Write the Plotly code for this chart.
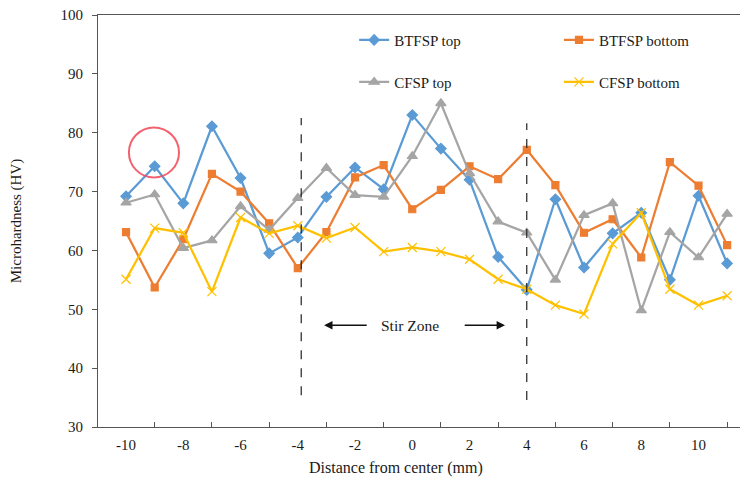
import plotly.graph_objects as go

distance = list(range(-10, 12))
btfsp_top = [69.2, 74.3, 68.0, 81.1, 72.3, 59.5, 62.2, 69.1, 74.1, 70.4, 83.0, 77.3,
             72.0, 58.9, 53.3, 68.7, 57.1, 62.9, 66.4, 55.0, 69.3, 57.8]
btfsp_bottom = [63.1, 53.7, 61.9, 73.0, 70.0, 64.6, 57.0, 63.1, 72.4, 74.5, 67.0, 70.3,
                74.3, 72.1, 77.1, 71.1, 63.0, 65.3, 58.8, 75.0, 71.0, 60.9]
cfsp_top = [68.1, 69.5, 60.4, 61.7, 67.5, 63.5, 68.9, 74.0, 69.4, 69.1, 76.0, 85.0,
            73.1, 64.9, 63.0, 55.0, 66.0, 68.0, 49.8, 63.1, 58.8, 66.2]
cfsp_bottom = [55.1, 63.8, 63.0, 53.0, 65.6, 62.9, 64.2, 62.1, 63.9, 59.8, 60.5, 59.8,
               58.5, 55.1, 53.4, 50.7, 49.2, 61.1, 66.4, 53.4, 50.7, 52.3]

x_tick_vals = list(range(-10, 11, 2))
x_tick_text = [str(v) for v in x_tick_vals]
x_minor_ticks = list(range(-9, 12, 2))
y_tick_vals = list(range(30, 101, 10))

series = [
    ("BTFSP top", btfsp_top, "#5B9BD5", "diamond", 8, "legend"),
    ("BTFSP bottom", btfsp_bottom, "#ED7D31", "square", 7, "legend2"),
    ("CFSP top", cfsp_top, "#A5A5A5", "triangle-up", 9, "legend3"),
    ("CFSP bottom", cfsp_bottom, "#FFC000", "x-thin", 9, "legend4"),
]

FONT = "Liberation Serif"
TXT = "#1a1a1a"
fig = go.Figure()
for name, ys, color, sym, size, leg in series:
    fig.add_trace(go.Scatter(
        x=distance, y=ys, name=name, mode="lines+markers",
        line=dict(color=color, width=2.25),
        marker=dict(symbol=sym, size=size, color=color,
                    line=dict(color=color, width=1.2)),
        legend=leg, showlegend=True,
    ))

# dashed boundaries of stir zone
zone_left, zone_right = -3.88, 4.0
fig.add_shape(type="line", xref="x", yref="y", x0=zone_left, x1=zone_left, y0=35.4, y1=82.5,
              line=dict(color="#222", width=1.2, dash="dash"))
fig.add_shape(type="line", xref="x", yref="y", x0=zone_right, x1=zone_right, y0=34.6, y1=81.6,
              line=dict(color="#222", width=1.2, dash="dash"))
# red circle highlight
fig.add_shape(type="circle", xref="x", yref="y", x0=-9.9, x1=-8.15, y0=72.4, y1=80.9,
              line=dict(color="rgba(240,70,85,0.85)", width=2))

# Stir zone label and arrows
fig.add_annotation(x=-0.08, y=47.3, xref="x", yref="y", text="Stir Zone", showarrow=False,
                   font=dict(family=FONT, size=15.5, color=TXT))
fig.add_annotation(x=-3.08, y=47.3, ax=-1.54, ay=47.3, xref="x", yref="y", axref="x", ayref="y",
                   text="", showarrow=True, arrowhead=2, arrowsize=1.2, arrowwidth=1.4, arrowcolor="#111")
fig.add_annotation(x=3.24, y=47.3, ax=1.78, ay=47.3, xref="x", yref="y", axref="x", ayref="y",
                   text="", showarrow=True, arrowhead=2, arrowsize=1.2, arrowwidth=1.4, arrowcolor="#111")

# x-axis title (offset left of the plot centre, as in the reference)
fig.add_annotation(x=0.464, y=-0.1, xref="paper", yref="paper", text="Distance from center (mm)",
                   showarrow=False, yanchor="middle", font=dict(family=FONT, size=16, color=TXT))

leg_common = dict(font=dict(family=FONT, size=15, color=TXT), bgcolor="rgba(0,0,0,0)",
                  xanchor="left", yanchor="middle", itemwidth=30)
fig.update_layout(
    width=748, height=486,
    margin=dict(l=90, r=16, t=7, b=67),
    paper_bgcolor="white", plot_bgcolor="white",
    showlegend=True,
    font=dict(family=FONT, size=15, color=TXT),
    legend=dict(x=0.399, y=0.939, **leg_common),
    legend2=dict(x=0.718, y=0.939, **leg_common),
    legend3=dict(x=0.399, y=0.837, **leg_common),
    legend4=dict(x=0.718, y=0.837, **leg_common),
    xaxis=dict(
        range=[-10.98, 11.45], tickmode="array", tickvals=x_tick_vals, ticktext=x_tick_text,
        ticks="", showline=True, linecolor="#555", linewidth=1.2, mirror=True,
        showgrid=False, zeroline=False, automargin=False, ticklabelstandoff=4,
        ticklabeloverflow="allow",
        minor=dict(tickmode="array", tickvals=x_minor_ticks, ticks="inside", ticklen=5,
                   tickcolor="#555", showgrid=False),
        tickfont=dict(family=FONT, size=15, color=TXT),
    ),
    yaxis=dict(
        range=[30, 100], tickmode="array", tickvals=y_tick_vals,
        ticks="outside", ticklen=5, tickcolor="#555",
        showline=True, linecolor="#555", linewidth=1.2,
        showgrid=False, zeroline=False, automargin=False, ticklabelstandoff=6,
        ticklabeloverflow="allow",
        tickfont=dict(family=FONT, size=15, color=TXT),
        title=dict(text="Microhardness (HV)", font=dict(family=FONT, size=15, color=TXT),
                   standoff=40),
    ),
)

fig.write_html("out.html")
